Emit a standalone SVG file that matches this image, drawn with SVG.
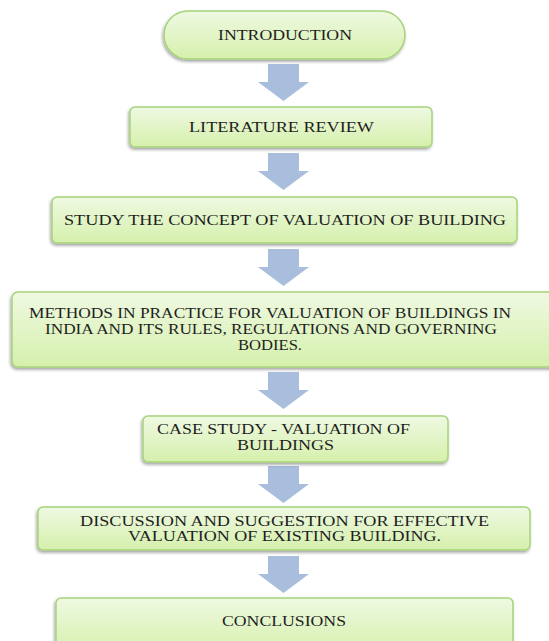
<svg xmlns="http://www.w3.org/2000/svg" width="549" height="641" viewBox="0 0 549 641">
<defs>
<linearGradient id="g" x1="0" y1="0" x2="0" y2="1">
<stop offset="0" stop-color="#eff9e2"/>
<stop offset="1" stop-color="#d5f0ac"/>
</linearGradient>
<filter id="sh" x="-5%" y="-20%" width="110%" height="150%">
<feDropShadow dx="-1" dy="2" stdDeviation="1.5" flood-color="#000" flood-opacity="0.35"/>
</filter>
<polygon id="arr" points="268,0 299,0 299,18 309,18 283.5,37 258,18 268,18"/>
</defs>
<style>
.box{fill:url(#g);stroke:#a6d37a;stroke-width:1.5;filter:url(#sh)}
.t{font-family:"Liberation Serif","Times New Roman",serif;font-size:15px;fill:#1e1e1e;text-anchor:middle}
.a{fill:#a9bddc}
</style>
<rect width="549" height="641" fill="#fff"/>
<g id="connectors">
<use href="#arr" class="a" transform="translate(0,64)"/>
<use href="#arr" class="a" transform="translate(0,153)"/>
<use href="#arr" class="a" transform="translate(0,249)"/>
<use href="#arr" class="a" transform="translate(0,372)"/>
<use href="#arr" class="a" transform="translate(0,466)"/>
<use href="#arr" class="a" transform="translate(0,556)"/>
</g>
<g id="introduction">
<rect class="box" x="164" y="11" width="241" height="48" rx="24"/>
<text class="t" x="285" y="40" textLength="134" lengthAdjust="spacingAndGlyphs">INTRODUCTION</text>
</g>
<g id="literature">
<rect class="box" x="130" y="107" width="302" height="40" rx="5"/>
<text class="t" x="281.5" y="132" textLength="185" lengthAdjust="spacingAndGlyphs">LITERATURE REVIEW</text>
</g>
<g id="concept">
<rect class="box" x="52" y="197" width="465" height="46" rx="5"/>
<text class="t" x="285" y="225" textLength="442" lengthAdjust="spacingAndGlyphs">STUDY THE CONCEPT OF VALUATION OF BUILDING</text>
</g>
<g id="methods">
<rect class="box" x="12" y="292" width="550" height="75" rx="6"/>
<text class="t" x="270" y="318" textLength="482" lengthAdjust="spacingAndGlyphs">METHODS IN PRACTICE FOR VALUATION OF BUILDINGS IN</text>
<text class="t" x="271" y="334" textLength="452" lengthAdjust="spacingAndGlyphs">INDIA AND ITS RULES, REGULATIONS AND GOVERNING</text>
<text class="t" x="270" y="350" textLength="64" lengthAdjust="spacingAndGlyphs">BODIES.</text>
</g>
<g id="casestudy">
<rect class="box" x="143" y="416" width="305" height="46" rx="5"/>
<text class="t" x="283.5" y="434" textLength="253" lengthAdjust="spacingAndGlyphs">CASE STUDY - VALUATION OF</text>
<text class="t" x="285.5" y="450" textLength="97" lengthAdjust="spacingAndGlyphs">BUILDINGS</text>
</g>
<g id="discussion">
<rect class="box" x="38" y="507" width="492" height="43" rx="5"/>
<text class="t" x="284.5" y="526" textLength="409" lengthAdjust="spacingAndGlyphs">DISCUSSION AND SUGGESTION FOR EFFECTIVE</text>
<text class="t" x="284.5" y="541" textLength="313" lengthAdjust="spacingAndGlyphs">VALUATION OF EXISTING BUILDING.</text>
</g>
<g id="conclusions">
<rect class="box" x="56" y="598" width="457" height="55" rx="5"/>
<text class="t" x="284" y="626" textLength="124" lengthAdjust="spacingAndGlyphs">CONCLUSIONS</text>
</g>
</svg>
